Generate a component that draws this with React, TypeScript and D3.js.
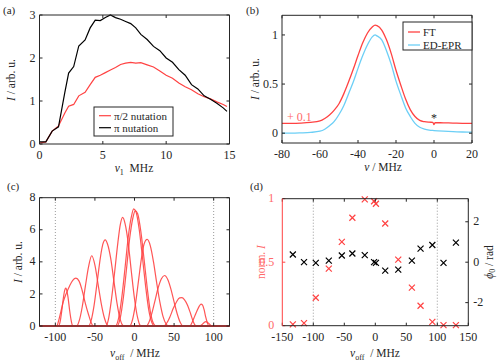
import * as d3 from "d3";

// (a) nutation curves
const nu1 = [0, 0.5, 1, 1.5, 2, 2.3, 2.7, 3.1, 3.6, 4, 4.4, 4.8, 5.2, 5.6, 6, 6.4, 6.8, 7.2, 7.6, 8, 8.5, 9, 9.5, 10, 10.5, 11, 11.5, 12, 12.5, 13, 13.5, 14, 14.5, 14.8];
const halfPiNutation = [0.02, 0.05, 0.3, 0.42, 0.72, 0.88, 0.92, 1.12, 1.2, 1.38, 1.55, 1.6, 1.66, 1.72, 1.78, 1.85, 1.88, 1.9, 1.88, 1.89, 1.84, 1.79, 1.7, 1.6, 1.53, 1.42, 1.33, 1.26, 1.17, 1.1, 1.05, 0.98, 0.92, 0.87];
const piNutation = [0.05, 0.05, 0.3, 0.4, 1.2, 1.65, 1.8, 2.28, 2.42, 2.7, 2.88, 2.87, 2.94, 3.0, 2.94, 2.9, 2.85, 2.8, 2.7, 2.55, 2.43, 2.27, 2.17, 2.0, 1.9, 1.73, 1.6, 1.38, 1.28, 1.12, 1.04, 0.95, 0.84, 0.76];

// (b) spectra
const nuFT = [-80, -75, -70, -65, -60, -57.5, -55, -52.5, -50, -47.5, -45, -42.5, -40, -37.5, -35, -32.5, -31, -30, -27.5, -25, -22.5, -20, -17.5, -15, -12.5, -10, -7.5, -5, -2.5, -0.6, 0, 0.6, 5, 10, 15, 20];
const ftSpectrum = [0.1, 0.1, 0.103, 0.11, 0.125, 0.15, 0.185, 0.235, 0.3, 0.4, 0.52, 0.65, 0.79, 0.92, 1.02, 1.08, 1.1, 1.095, 1.05, 0.95, 0.81, 0.64, 0.49, 0.35, 0.24, 0.17, 0.13, 0.117, 0.112, 0.11, 0.088, 0.108, 0.105, 0.103, 0.1, 0.1];
const nuED = [-80, -75, -70, -65, -60, -57.5, -55, -52.5, -50, -47.5, -45, -42.5, -40, -37.5, -35, -32.5, -31, -30, -27.5, -25, -22.5, -20, -17.5, -15, -12.5, -10, -7.5, -5, -2.5, 0, 5, 10, 15, 20];
const edSpectrum = [0, 0, 0.003, 0.008, 0.02, 0.04, 0.075, 0.12, 0.19, 0.28, 0.4, 0.52, 0.66, 0.79, 0.9, 0.98, 1.0, 0.99, 0.95, 0.84, 0.7, 0.53, 0.39, 0.26, 0.17, 0.1, 0.06, 0.042, 0.032, 0.027, 0.02, 0.015, 0.012, 0.01];

// (c) excitation profiles, one list per offset
const profileOffsets: number[][] = [
  [-120, -96, -94, -92, -90, -88, -87, -86, -84, -82, -80, -78, 120],
  [-120, -98, -96, -93, -90, -86, -82, -78, -74, -70, -66, -62, -58, -55, -52, 120],
  [-120, -73, -70, -66, -62, -58, -54, -50, -46, -42, -38, -35, -33, 120],
  [-120, -58, -55, -51, -47, -43, -40, -37, -34, -30, -26, -22, -18, -15, -13, 120],
  [-120, -36, -33, -29, -25, -21, -18, -15, -12, -8, -4, 0, 4, 7, 9, 120],
  [-120, -24, -20, -16, -12, -8, -4, -1, 2, 6, 10, 14, 18, 22, 25, 120],
  [-120, -22, -18, -14, -10, -6, -2, 1, 4, 8, 12, 16, 20, 24, 27, 120],
  [-120, -6, -3, 1, 5, 9, 12, 16, 20, 24, 28, 32, 36, 40, 43, 120],
  [-120, 15, 18, 22, 26, 30, 34, 38, 42, 46, 50, 54, 58, 61, 120],
  [-120, 37, 41, 45, 49, 53, 57, 60, 63, 67, 71, 74, 77, 79, 120],
  [-120, 70, 73, 76, 79, 82, 84, 86, 88, 90, 92, 94, 120],
  [-120, 82, 85, 88, 90, 92, 95, 98, 120],
];
const profileIntensities: number[][] = [
  [0, 0, 0.25, 0.9, 1.7, 2.25, 2.36, 2.3, 1.8, 1.0, 0.35, 0, 0],
  [0, 0, 0.3, 0.9, 1.5, 2.05, 2.5, 2.85, 2.98, 2.8, 2.2, 1.4, 0.7, 0.25, 0, 0],
  [0, 0, 0.3, 1.2, 2.5, 3.7, 4.38, 3.8, 2.6, 1.4, 0.5, 0.1, 0, 0],
  [0, 0, 0.3, 1.3, 2.8, 4.3, 5.1, 5.37, 5.1, 4.2, 2.8, 1.4, 0.4, 0.05, 0, 0],
  [0, 0, 0.4, 1.7, 3.4, 5.2, 6.3, 6.77, 6.4, 5.2, 3.4, 1.7, 0.5, 0.05, 0, 0],
  [0, 0, 0.5, 1.8, 3.6, 5.5, 6.8, 7.3, 7.1, 6.0, 4.3, 2.5, 1.0, 0.2, 0, 0],
  [0, 0, 0.5, 1.8, 3.6, 5.5, 6.75, 7.2, 7.0, 5.9, 4.2, 2.4, 0.9, 0.15, 0, 0],
  [0, 0, 0.3, 1.3, 2.8, 4.3, 5.1, 5.4, 5.0, 4.0, 2.7, 1.5, 0.6, 0.12, 0, 0],
  [0, 0, 0.2, 0.8, 1.6, 2.4, 2.95, 3.15, 2.9, 2.3, 1.5, 0.75, 0.2, 0, 0],
  [0, 0, 0.2, 0.6, 1.1, 1.5, 1.75, 1.77, 1.65, 1.3, 0.75, 0.3, 0.03, 0, 0],
  [0, 0, 0.25, 0.6, 0.95, 1.25, 1.36, 1.3, 1.0, 0.55, 0.2, 0, 0],
  [0, 0, 0.08, 0.22, 0.27, 0.24, 0.1, 0, 0],
];

// (d) normalised intensity and phase per offset
const offsets = [-133, -115, -96, -75, -54, -37, -17, -2, 1, 16, 37, 59, 73, 92, 110, 130];
const normIntensity = [0.01, 0.02, 0.22, 0.45, 0.66, 0.85, 0.995, 0.98, 0.96, 0.805, 0.52, 0.3, 0.157, 0.03, 0.005, 0.005];
const phase = [0.38, 0, -0.03, 0.08, 0.33, 0.43, 0.35, 0, -0.03, -0.42, -0.37, 0.08, 0.67, 0.85, -0.03, 0.97];

const RED = "#ff4242";
const LIGHTRED = "#ff6a6a";
const BLUE = "#6ccff6";
const AX = "#262626";
const FONT = "'Liberation Serif', 'DejaVu Serif', serif";
const TL = 3;

type Lin = d3.ScaleLinear<number, number>;

function Frame({ x, y, xTicks, yTicks, leftColor = AX, yRightTicks = true, yLabelColor = AX, yPad = 4 }: {
  x: Lin; y: Lin; xTicks: number[]; yTicks: number[];
  leftColor?: string; yRightTicks?: boolean; yLabelColor?: string; yPad?: number;
}) {
  const [x0, x1] = x.range();
  const [yb, yt] = y.range();
  return (
    <g fontFamily={FONT} fontSize={12} fill={AX}>
      {xTicks.map((t) => (
        <g key={"x" + t}>
          <line x1={x(t)} x2={x(t)} y1={yb} y2={yb - TL} stroke={AX} />
          <line x1={x(t)} x2={x(t)} y1={yt} y2={yt + TL} stroke={AX} />
          <text x={x(t)} y={yb + 15} textAnchor="middle">{String(t)}</text>
        </g>
      ))}
      {yTicks.map((t) => (
        <g key={"y" + t}>
          <line x1={x0} x2={x0 + TL} y1={y(t)} y2={y(t)} stroke={leftColor} />
          {yRightTicks && <line x1={x1} x2={x1 - TL} y1={y(t)} y2={y(t)} stroke={AX} />}
          <text x={x0 - yPad} y={y(t)} dy="0.3em" textAnchor="end" fill={yLabelColor}>{String(t)}</text>
        </g>
      ))}
      <line x1={x0} x2={x1} y1={yb} y2={yb} stroke={AX} />
      <line x1={x0} x2={x1} y1={yt} y2={yt} stroke={AX} />
      <line x1={x0} x2={x0} y1={yb} y2={yt} stroke={leftColor} />
      <line x1={x1} x2={x1} y1={yb} y2={yt} stroke={AX} />
    </g>
  );
}

function YLabel({ x, y, color = AX, children }: { x: number; y: number; color?: string; children: any }) {
  return (
    <text transform={`translate(${x},${y}) rotate(-90)`} textAnchor="middle" dominantBaseline="central"
      fontFamily={FONT} fontSize={11.5} fill={color}>{children}</text>
  );
}

function Cross({ cx, cy, color }: { cx: number; cy: number; color: string }) {
  const s = 3;
  return (
    <path d={`M${cx - s},${cy - s}L${cx + s},${cy + s}M${cx - s},${cy + s}L${cx + s},${cy - s}`} stroke={color} strokeWidth={1.2} />
  );
}

export default function App() {
  // (a)
  const xa = d3.scaleLinear().domain([0, 15]).range([39.5, 229.5]);
  const ya = d3.scaleLinear().domain([0, 3]).range([144, 15]);
  const lineA = (vals: number[]) =>
    d3.line<number>().x((_, i) => xa(nu1[i])).y((d) => ya(d))(vals) ?? "";

  // (b)
  const xb = d3.scaleLinear().domain([-80, 20]).range([282, 472]);
  const yb = d3.scaleLinear().domain([-0.1, 1.2]).range([143, 15.3]);
  const lineB = (xs: number[], vals: number[]) =>
    d3.line<number>().x((_, i) => xb(xs[i])).y((d) => yb(d)).curve(d3.curveMonotoneX)(vals) ?? "";

  // (c)
  const xc = d3.scaleLinear().domain([-120, 120]).range([39.5, 229.5]);
  const yc = d3.scaleLinear().domain([0, 8]).range([326, 197.7]);

  // (d)
  const xd = d3.scaleLinear().domain([-150, 150]).range([282.3, 468.3]);
  const ydL = d3.scaleLinear().domain([0, 1]).range([325.7, 198.7]);
  const ydR = d3.scaleLinear().domain([-Math.PI, Math.PI]).range([325.7, 198.7]);

  const sub = (s: string) => (
    <tspan dy={3} fontSize={8}>{s}</tspan>
  );

  return (
    <svg width={500} height={363} style={{ position: "absolute", left: 0, top: 0, background: "#fff" }}>
      {/* panel labels */}
      <g fontFamily={FONT} fontSize={11} fill={AX}>
        <text x={3} y={14}>(a)</text>
        <text x={246} y={14}>(b)</text>
        <text x={7} y={190}>(c)</text>
        <text x={250} y={190}>(d)</text>
      </g>

      {/* (a) */}
      <path d={lineA(halfPiNutation)} fill="none" stroke={RED} strokeWidth={1.2} />
      <path d={lineA(piNutation)} fill="none" stroke="#000" strokeWidth={1.2} />
      <Frame x={xa} y={ya} xTicks={[0, 5, 10, 15]} yTicks={[0, 1, 2, 3]} />
      <YLabel x={11} y={80}><tspan fontStyle="italic">I</tspan> / arb. u.</YLabel>
      <text x={134} y={172} textAnchor="middle" fontFamily={FONT} fontSize={11.5} fill={AX}>
        <tspan fontStyle="italic">ν</tspan>{sub("1")}<tspan dy={-3}>{"\u00a0 MHz"}</tspan>
      </text>
      <g fontFamily={FONT} fontSize={11} fill={AX}>
        <rect x={94} y={107} width={79} height={29} fill="#fff" stroke={AX} />
        <line x1={99} x2={111} y1={115.7} y2={115.7} stroke={RED} strokeWidth={1.2} />
        <text x={114} y={115.7} dy="0.35em">π/2 nutation</text>
        <line x1={99} x2={111} y1={127.7} y2={127.7} stroke="#000" strokeWidth={1.2} />
        <text x={114} y={127.7} dy="0.35em">π nutation</text>
      </g>

      {/* (b) */}
      <path d={lineB(nuED, edSpectrum)} fill="none" stroke={BLUE} strokeWidth={1.3} />
      <path d={lineB(nuFT, ftSpectrum)} fill="none" stroke={RED} strokeWidth={1.3} />
      <Frame x={xb} y={yb} xTicks={[-80, -60, -40, -20, 0, 20]} yTicks={[0, 0.5, 1]} />
      <YLabel x={255} y={79}><tspan fontStyle="italic">I</tspan> / arb. u.</YLabel>
      <text x={383} y={171} textAnchor="middle" fontFamily={FONT} fontSize={11.5} fill={AX}>
        <tspan fontStyle="italic">ν</tspan> / MHz
      </text>
      <text x={287} y={121} fontFamily={FONT} fontSize={12} fill={LIGHTRED}>+ 0.1</text>
      <text x={xb(0)} y={122} textAnchor="middle" fontFamily={FONT} fontSize={12} fill={AX}>*</text>
      <g fontFamily={FONT} fontSize={11} fill={AX}>
        <rect x={403} y={22} width={69} height={28} fill="#fff" stroke={AX} />
        <line x1={408} x2={420} y1={32} y2={32} stroke={RED} strokeWidth={1.3} />
        <text x={423} y={32} dy="0.35em">FT</text>
        <line x1={408} x2={420} y1={45} y2={45} stroke={BLUE} strokeWidth={1.3} />
        <text x={423} y={45} dy="0.35em">ED-EPR</text>
      </g>

      {/* (c) */}
      {[-100, 100].map((v) => (
        <line key={v} x1={xc(v)} x2={xc(v)} y1={yc(0)} y2={yc(8)} stroke="#999" strokeDasharray="1,2" />
      ))}
      {profileIntensities.map((vals, k) => (
        <path key={k}
          d={d3.line<number>().x((_, i) => xc(profileOffsets[k][i])).y((d) => yc(d)).curve(d3.curveMonotoneX)(vals) ?? ""}
          fill="none" stroke={RED} strokeWidth={1.2} strokeOpacity={0.9} />
      ))}
      <Frame x={xc} y={yc} xTicks={[-100, -50, 0, 50, 100]} yTicks={[0, 2, 4, 6, 8]} />
      <YLabel x={18} y={262}><tspan fontStyle="italic">I</tspan> / arb. u.</YLabel>
      <text x={135} y={357} textAnchor="middle" fontFamily={FONT} fontSize={11.5} fill={AX}>
        <tspan fontStyle="italic">ν</tspan>{sub("off")}<tspan dy={-3}>{"\u00a0 / MHz"}</tspan>
      </text>

      {/* (d) */}
      {[-100, 100].map((v) => (
        <line key={v} x1={xd(v)} x2={xd(v)} y1={ydL(0)} y2={ydL(1)} stroke="#999" strokeDasharray="1,2" />
      ))}
      {offsets.map((o, i) => (
        <Cross key={"r" + i} cx={xd(o)} cy={ydL(normIntensity[i])} color={RED} />
      ))}
      {offsets.map((o, i) => (
        <Cross key={"k" + i} cx={xd(o)} cy={ydR(phase[i])} color="#000" />
      ))}
      <Frame x={xd} y={ydL} xTicks={[-150, -100, -50, 0, 50, 100, 150]} yTicks={[0, 0.5, 1]}
        leftColor={RED} yRightTicks={false} yLabelColor={LIGHTRED} yPad={8} />
      <g fontFamily={FONT} fontSize={12} fill={AX}>
        {[-2, 0, 2].map((t) => (
          <g key={t}>
            <line x1={xd.range()[1]} x2={xd.range()[1] - TL} y1={ydR(t)} y2={ydR(t)} stroke={AX} />
            <text x={xd.range()[1] + 5} y={ydR(t)} dy="0.3em">{String(t)}</text>
          </g>
        ))}
      </g>
      <YLabel x={261} y={262} color={LIGHTRED}>norm. <tspan fontStyle="italic">I</tspan></YLabel>
      <YLabel x={489} y={262}>
        <tspan fontStyle="italic">ϕ</tspan><tspan dy={3} fontSize={8}>0</tspan><tspan dy={-3}> / rad</tspan>
      </YLabel>
      <text x={375} y={357} textAnchor="middle" fontFamily={FONT} fontSize={11.5} fill={AX}>
        <tspan fontStyle="italic">ν</tspan>{sub("off")}<tspan dy={-3}>{"\u00a0 / MHz"}</tspan>
      </text>
    </svg>
  );
}
